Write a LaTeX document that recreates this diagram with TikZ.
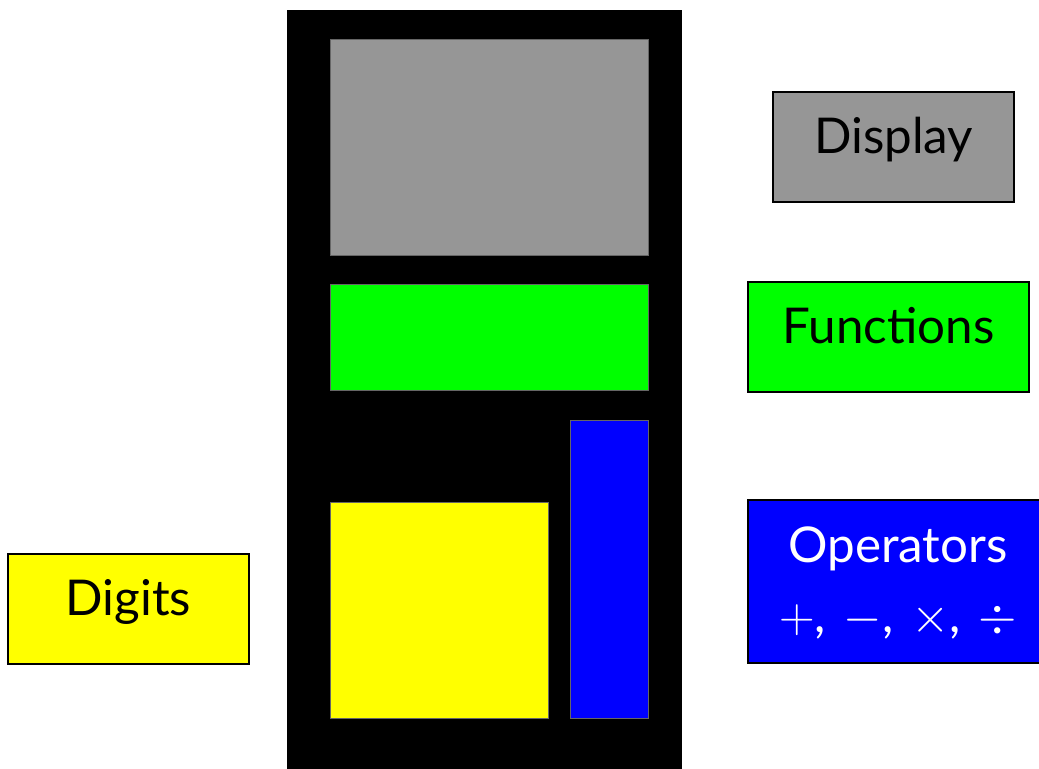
\RequirePackage{fix-cm}
\documentclass[tikz,border=0pt]{standalone}
\usepackage{fontspec}
\setmainfont{Lato}
\definecolor{dispgray}{RGB}{150,150,150}
\definecolor{fungreen}{RGB}{0,255,0}
\definecolor{opblue}{RGB}{0,0,255}
\definecolor{diggold}{RGB}{255,255,0}
\newcommand{\opsep}{,\hspace{0.36em}}
\begin{document}
\begin{tikzpicture}[x=0.75pt,y=-0.75pt,
  part/.style={draw=black!60,line width=0.4pt},
  label/.style={draw=black,line width=0.9pt,inner sep=0pt,align=center,
    text height=26pt,text depth=16pt,
    font=\fontsize{37}{52}\selectfont}]
\useasboundingbox (0,0) rectangle (1039,768);
% calculator body
\fill[black] (287,10) rectangle (682,790);
\filldraw[part,fill=dispgray] (330,39) rectangle (648,255);
\filldraw[part,fill=fungreen] (330,284) rectangle (648,390);
\filldraw[part,fill=opblue] (570,420) rectangle (648,718);
\filldraw[part,fill=diggold] (330,502) rectangle (548,718);
% labels
\node[label,fill=dispgray,minimum width=241*0.75pt,minimum height=110*0.75pt] (display) at (893.5,147) {Display};
\node[label,fill=fungreen,minimum width=281*0.75pt,minimum height=110*0.75pt] (functions) at (888.5,337) {Functions};
\node[label,fill=opblue,text=white,text height=78pt,text depth=2pt,minimum width=300*0.75pt,minimum height=163*0.75pt] (operators) at (898,581.5) {Operators\\$+$\opsep$-$\opsep$\times$\opsep$\div$};
\node[label,fill=diggold,minimum width=241*0.75pt,minimum height=110*0.75pt] (digits) at (128.5,609) {Digits};
\end{tikzpicture}
\end{document}
